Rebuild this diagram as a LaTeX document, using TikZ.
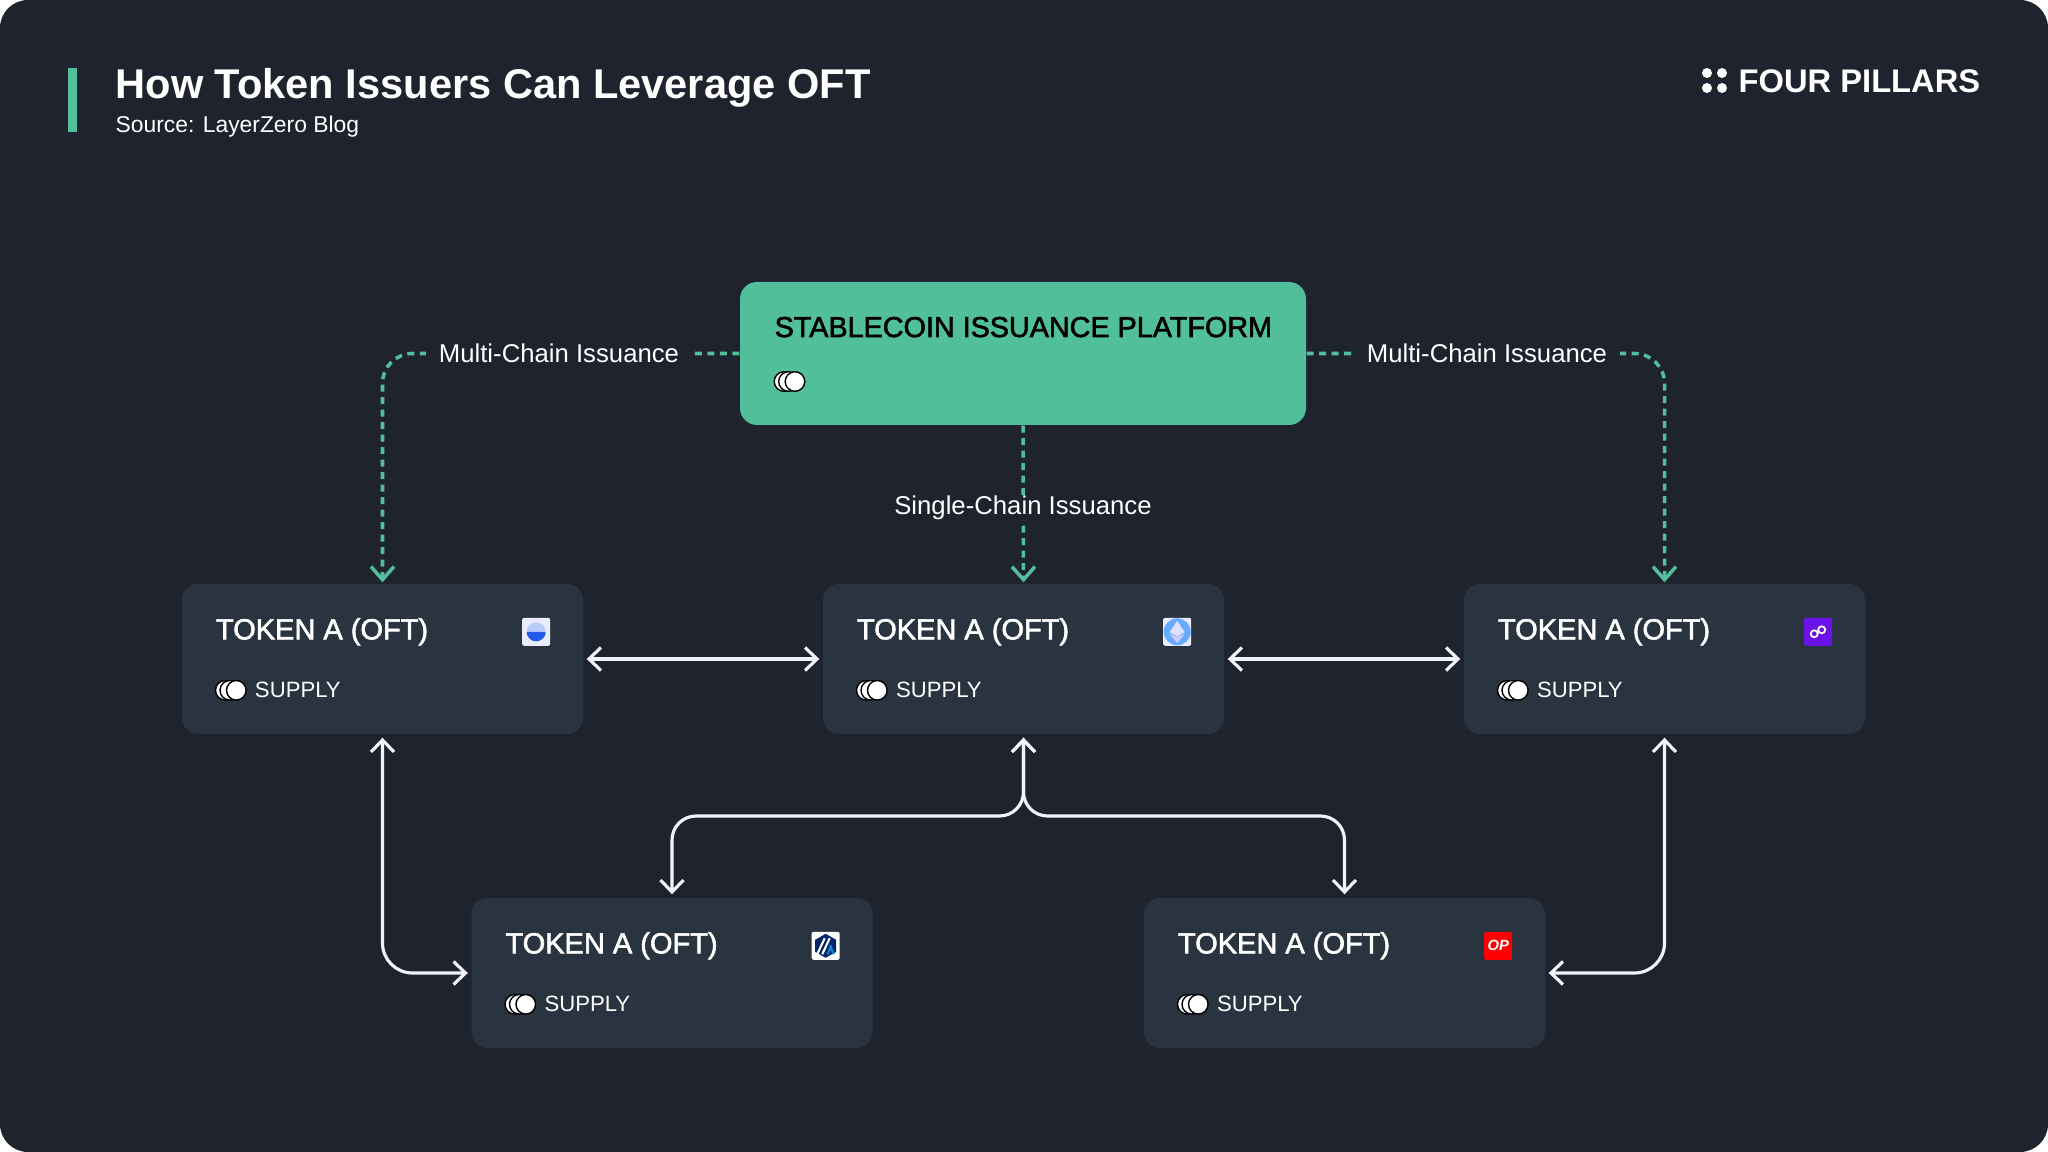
\documentclass[tikz,border=0pt]{standalone}
\usepackage{fontspec}
\setmainfont{Liberation Sans}
\newfontfamily\medfont[FakeBold=2]{Liberation Sans}
\usetikzlibrary{arrows.meta,positioning}
\definecolor{bgdark}{HTML}{1E232D}
\definecolor{boxdark}{HTML}{2A3440}
\definecolor{issuegreen}{HTML}{52BF9B}
\definecolor{linewhite}{HTML}{F0F4FA}
\definecolor{iconpale}{HTML}{B9CCF7}
\definecolor{iconblue}{HTML}{2259E8}

\begin{document}
\begin{tikzpicture}[
  tokenbox/.style={fill=boxdark, rounded corners=0.16cm, minimum width=4.01cm, minimum height=1.5cm},
  platform/.style={fill=issuegreen, rounded corners=0.17cm, minimum width=5.66cm, minimum height=1.43cm},
  tokentitle/.style={anchor=base west, inner sep=0pt, text=white, font=\medfont\fontsize{8.25}{10}\selectfont},
  supply/.style={anchor=base west, inner sep=0pt, text=white, font=\fontsize{6.3}{8}\selectfont},
  issuelabel/.style={fill=bgdark, text=white, inner xsep=0.13cm, inner ysep=0pt, font=\fontsize{7.32}{9}\selectfont},
  tile/.style={rounded corners=0.02cm, minimum size=0.28cm, inner sep=0pt},
  ar/.style={{Straight Barb[length=1.2mm,width=2.3mm]}-{Straight Barb[length=1.2mm,width=2.3mm]},
             line width=0.9pt, draw=linewhite, line cap=round, shorten >=0.3mm, shorten <=0.3mm},
  dashar/.style={-{Straight Barb[length=1.3mm,width=2.3mm]}, line width=1pt, draw=issuegreen,
             dash pattern=on 0.7mm off 0.55mm, shorten >=0.1mm},
  coins/.pic={
    \foreach \cx in {0.10,0.145,0.21}
      \draw[black, fill=white, line width=0.4pt] (\cx,0) circle (0.098);
  },
]

\path[use as bounding box] (0,0) rectangle (20.48,-11.52);
\fill[white] (0,0) rectangle (20.48,-11.52);
\fill[bgdark, rounded corners=0.28cm] (0,0) rectangle (20.48,-11.52);

% header
\fill[issuegreen] (0.68,-0.68) rectangle (0.77,-1.32);
\node[anchor=base west, inner sep=0pt, text=white, font=\bfseries\fontsize{11.83}{14}\selectfont] (title) at (1.15,-0.985) {How Token Issuers Can Leverage OFT};
\node[anchor=base west, inner sep=0pt, text=white, font=\fontsize{6.5}{8}\selectfont] (source) at (1.15,-1.33) {Source: LayerZero Blog};
\fill[white] (17.07,-0.73) circle (0.05) (17.22,-0.73) circle (0.05) (17.07,-0.88) circle (0.05) (17.22,-0.88) circle (0.05);
\node[anchor=base west, inner sep=0pt, text=white, font=\bfseries\fontsize{9.3}{11}\selectfont] (brand) at (17.38,-0.925) {FOUR PILLARS};

% boxes
\node[platform] (plat) at (10.23,-3.535) {};
\node[anchor=base west, inner sep=0pt, text=black, font=\medfont\fontsize{8.18}{10}\selectfont] (plattext) at (7.74,-3.37) {STABLECOIN ISSUANCE PLATFORM};
\pic at (7.74,-3.815) {coins};

\node[tokenbox] (tokenA) at (3.825,-6.59) {};
\node[tokenbox] (tokenB) at (10.235,-6.59) {};
\node[tokenbox] (tokenC) at (16.645,-6.59) {};
\node[tokenbox] (tokenD) at (6.72,-9.73) {};
\node[tokenbox] (tokenE) at (13.445,-9.73) {};

\node[tokentitle] (titleA) at ([shift={(0.34,-0.56)}]tokenA.north west) {TOKEN A (OFT)};
\node[tokentitle] (titleB) at ([shift={(0.34,-0.56)}]tokenB.north west) {TOKEN A (OFT)};
\node[tokentitle] (titleC) at ([shift={(0.34,-0.56)}]tokenC.north west) {TOKEN A (OFT)};
\node[tokentitle] (titleD) at ([shift={(0.34,-0.56)}]tokenD.north west) {TOKEN A (OFT)};
\node[tokentitle] (titleE) at ([shift={(0.34,-0.56)}]tokenE.north west) {TOKEN A (OFT)};

\node[supply] (supplyA) at ([shift={(0.73,-1.14)}]tokenA.north west) {SUPPLY};
\node[supply] (supplyB) at ([shift={(0.73,-1.14)}]tokenB.north west) {SUPPLY};
\node[supply] (supplyC) at ([shift={(0.73,-1.14)}]tokenC.north west) {SUPPLY};
\node[supply] (supplyD) at ([shift={(0.73,-1.14)}]tokenD.north west) {SUPPLY};
\node[supply] (supplyE) at ([shift={(0.73,-1.14)}]tokenE.north west) {SUPPLY};

\pic at ([shift={(0.34,-1.07)}]tokenA.north west) {coins};
\pic at ([shift={(0.34,-1.07)}]tokenB.north west) {coins};
\pic at ([shift={(0.34,-1.07)}]tokenC.north west) {coins};
\pic at ([shift={(0.34,-1.07)}]tokenD.north west) {coins};
\pic at ([shift={(0.34,-1.07)}]tokenE.north west) {coins};

% chain icons
\node[tile, fill=blue!8] (iconA) at ([shift={(-0.475,-0.485)}]tokenA.north east) {};
\fill[iconpale] (iconA) circle (0.095);
\fill[iconblue] ([xshift=-0.095cm]iconA.center) arc (180:360:0.095) -- cycle;

\node[tile, fill=blue!8] (iconB) at ([shift={(-0.475,-0.485)}]tokenB.north east) {};
\fill[blue!55!cyan!60!white] (iconB) circle (0.135);
\fill[blue!12] ([yshift=0.11cm]iconB.center) -- ++(0.075,-0.115) -- ++(-0.075,-0.04) -- ++(-0.075,0.04) -- cycle;
\fill[blue!20] ([yshift=-0.115cm]iconB.center) -- ++(0.075,0.095) -- ++(-0.075,-0.03) -- ++(-0.075,0.03) -- cycle;

\node[tile, fill={rgb,255:red,106;green,18;blue,232}] (iconC) at ([shift={(-0.475,-0.485)}]tokenC.north east) {};
\draw[white, line width=0.5pt] ([shift={(-0.04,-0.02)}]iconC.center) circle (0.035) ([shift={(0.035,0.02)}]iconC.center) circle (0.035);

\node[tile, fill=white] (iconD) at ([shift={(-0.475,-0.485)}]tokenD.north east) {};
\fill[blue!30!black!85!cyan] ([yshift=0.12cm]iconD.center) -- ++(0.105,-0.06) -- ++(0,-0.12) -- ++(-0.105,-0.06) -- ++(-0.105,0.06) -- ++(0,0.12) -- cycle;
\draw[white, line width=0.6pt] ([shift={(-0.085,-0.085)}]iconD.center) -- ++(0.075,0.16) ([shift={(-0.035,-0.085)}]iconD.center) -- ++(0.075,0.16);
\draw[cyan!70!blue, line width=0.6pt] ([shift={(0.02,-0.085)}]iconD.center) -- ++(0.035,0.09) ([shift={(0.08,-0.085)}]iconD.center) -- ++(-0.035,0.09);

\node[tile, fill=red!95!purple, text=white, font=\bfseries\itshape\fontsize{4.2}{5}\selectfont] (iconE) at ([shift={(-0.475,-0.485)}]tokenE.north east) {OP};

% connectors
\draw[ar] (tokenA.east) -- (tokenB.west);
\draw[ar] (tokenB.east) -- (tokenC.west);
\draw[ar, rounded corners=0.3cm] (tokenA.south) |- (tokenD.west);
\draw[ar, rounded corners=0.3cm] (tokenC.south) |- (tokenE.east);

\coordinate (fork) at (tokenB.south |- 0,-8.16);
\draw[ar, rounded corners=0.24cm] (tokenB.south) -- (fork) -| (tokenD.north);
\draw[ar, rounded corners=0.24cm] (tokenB.south) -- (fork) -| (tokenE.north);

\draw[dashar, rounded corners=0.3cm] (plat.west) -| (tokenA.north);
\draw[dashar, rounded corners=0.3cm] (plat.east) -| (tokenC.north);
\draw[dashar] (plat.south) -- (tokenB.north);

\node[issuelabel] (multiL) at (5.59,-3.53) {Multi-Chain Issuance};
\node[issuelabel] (multiR) at (14.87,-3.53) {Multi-Chain Issuance};
\node[issuelabel] (single) at (10.23,-5.08) {Single-Chain Issuance};

\end{tikzpicture}
\end{document}
